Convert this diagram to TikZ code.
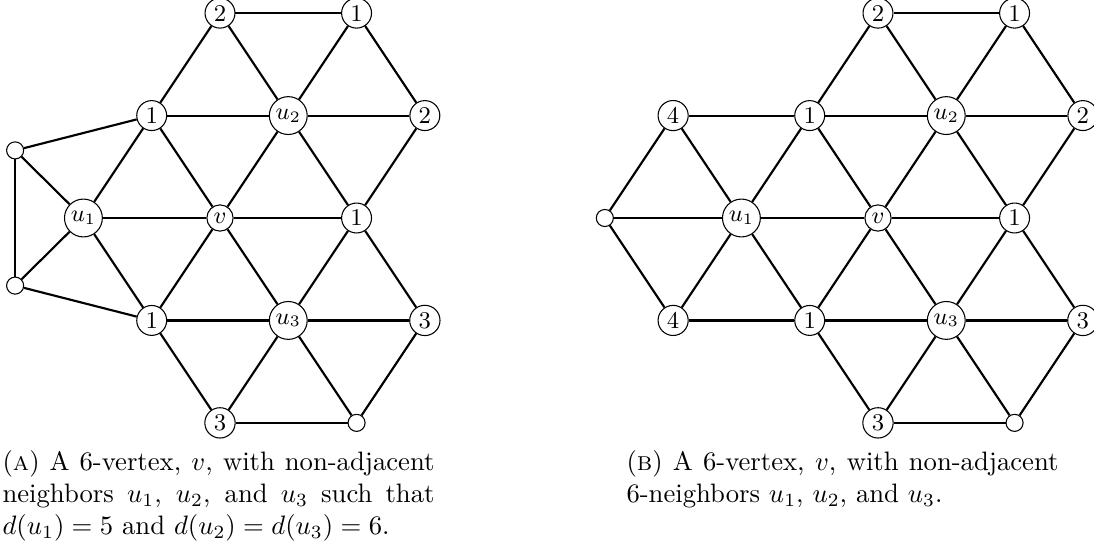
\documentclass[tikz,border=0pt]{standalone}
\usepackage{amsmath}
\usepackage{tikz}

\begin{document}
\begin{tikzpicture}[
    x=0.9cm,y=1.35cm,
    vtx/.style={draw,circle,fill=white,inner sep=1.3pt,minimum size=9.75pt,
                font=\small},
    sml/.style={draw,circle,fill=white,inner sep=0pt,minimum size=6.4pt},
    ln/.style={thick},
    captxt/.style={text width=162pt,align=justify,inner sep=0pt,anchor=north west},
  ]
  \useasboundingbox (-82.5pt,-122.25pt) rectangle (327.75pt,81.75pt);

  % (a) u1 has degree 5
  \node[vtx] (At2) at (0,2)  {2};
  \node[vtx] (At1) at (2,2)  {1};
  \node[vtx] (Aa)  at (-1,1) {1};
  \node[vtx] (Au2) at (1,1)  {$u_2$};
  \node[vtx] (Ab)  at (3,1)  {2};
  \node[vtx] (Au1) at (-2,0) {$u_1$};
  \node[vtx] (Av)  at (0,0)  {$v$};
  \node[vtx] (Ac)  at (2,0)  {1};
  \node[vtx] (Ad)  at (-1,-1) {1};
  \node[vtx] (Au3) at (1,-1) {$u_3$};
  \node[vtx] (Ae)  at (3,-1) {3};
  \node[vtx] (Af)  at (0,-2) {3};
  \node[sml] (Ag)  at (2,-2) {};
  \node[sml] (Ax)  at (-3,0.66) {};
  \node[sml] (Ay)  at (-3,-0.66) {};
  \draw[ln] (At2) -- (At1);
  \draw[ln] (Aa) -- (Au2) -- (Ab);
  \draw[ln] (Au1) -- (Av) -- (Ac);
  \draw[ln] (Ad) -- (Au3) -- (Ae);
  \draw[ln] (Af) -- (Ag);
  \draw[ln] (Au1) -- (Aa) -- (At2);
  \draw[ln] (Ad) -- (Av) -- (Au2) -- (At1);
  \draw[ln] (Af) -- (Au3) -- (Ac) -- (Ab);
  \draw[ln] (Ag) -- (Ae);
  \draw[ln] (At2) -- (Au2) -- (Ac) -- (Ae);
  \draw[ln] (Aa) -- (Av) -- (Au3) -- (Ag);
  \draw[ln] (Au1) -- (Ad) -- (Af);
  \draw[ln] (At1) -- (Ab);
  \draw[ln] (Aa) -- (Ax) -- (Au1) -- (Ay) -- (Ad);
  \draw[ln] (Ax) -- (Ay);
  \node[captxt] (capA) at (-81.75pt,-87pt)
    {(\textsc{a}) A 6-vertex, $v$, with non-adjacent neighbors $u_1$, $u_2$,
     and $u_3$ such that $d(u_1)=5$ and $d(u_2)=d(u_3)=6$.};

  % (b) all three are 6-vertices
  \begin{scope}[xshift=246.75pt]
    \node[vtx] (Bt2) at (0,2)  {2};
    \node[vtx] (Bt1) at (2,2)  {1};
    \node[vtx] (Bh)  at (-3,1) {4};
    \node[vtx] (Ba)  at (-1,1) {1};
    \node[vtx] (Bu2) at (1,1)  {$u_2$};
    \node[vtx] (Bb)  at (3,1)  {2};
    \node[sml] (Bw)  at (-4,0) {};
    \node[vtx] (Bu1) at (-2,0) {$u_1$};
    \node[vtx] (Bv)  at (0,0)  {$v$};
    \node[vtx] (Bc)  at (2,0)  {1};
    \node[vtx] (Bk)  at (-3,-1) {4};
    \node[vtx] (Bd)  at (-1,-1) {1};
    \node[vtx] (Bu3) at (1,-1) {$u_3$};
    \node[vtx] (Be)  at (3,-1) {3};
    \node[vtx] (Bf)  at (0,-2) {3};
    \node[sml] (Bg)  at (2,-2) {};
    \draw[ln] (Bt2) -- (Bt1);
    \draw[ln] (Bh) -- (Ba) -- (Bu2) -- (Bb);
    \draw[ln] (Bw) -- (Bu1) -- (Bv) -- (Bc);
    \draw[ln] (Bk) -- (Bd) -- (Bu3) -- (Be);
    \draw[ln] (Bf) -- (Bg);
    \draw[ln] (Bw) -- (Bh);
    \draw[ln] (Bk) -- (Bu1) -- (Ba) -- (Bt2);
    \draw[ln] (Bd) -- (Bv) -- (Bu2) -- (Bt1);
    \draw[ln] (Bf) -- (Bu3) -- (Bc) -- (Bb);
    \draw[ln] (Bg) -- (Be);
    \draw[ln] (Bh) -- (Bu1) -- (Bd) -- (Bf);
    \draw[ln] (Bt2) -- (Bu2) -- (Bc) -- (Be);
    \draw[ln] (Ba) -- (Bv) -- (Bu3) -- (Bg);
    \draw[ln] (Bt1) -- (Bb);
    \draw[ln] (Bw) -- (Bk);
  \end{scope}
  \node[captxt] (capB) at (152.25pt,-87pt)
    {(\textsc{b}) A 6-vertex, $v$, with non-adjacent 6-neighbors $u_1$, $u_2$,
     and $u_3$.};
\end{tikzpicture}
\end{document}
